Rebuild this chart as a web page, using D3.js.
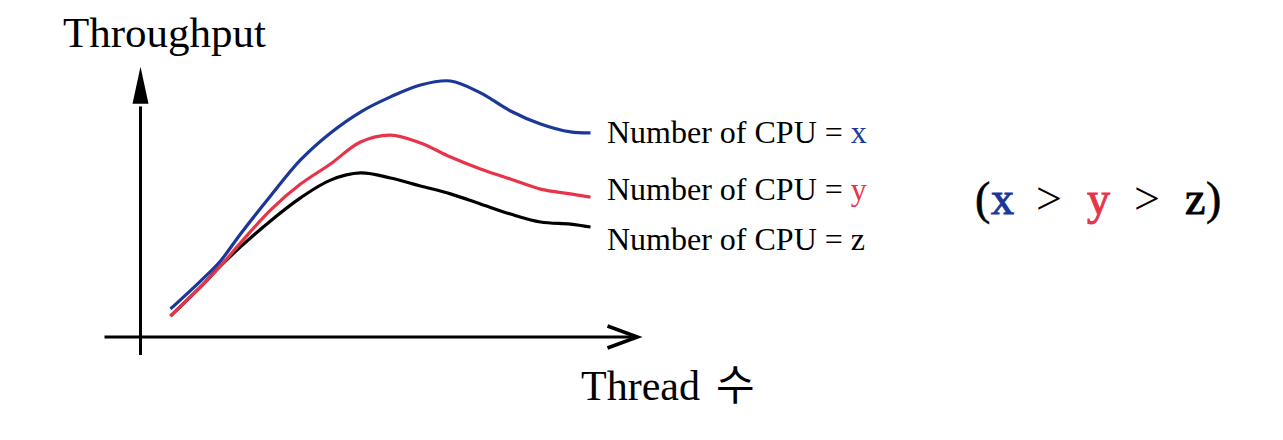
<!DOCTYPE html>
<html>
<head>
<meta charset="utf-8">
<script src="https://cdn.jsdelivr.net/npm/d3@7"></script>
<style>
    body { margin: 0; background: #fff; }
    svg text { font-family: "Liberation Serif", "Noto Sans CJK KR", serif; fill: #000; }
</style>
</head>
<body>
<svg id="chart" width="1283" height="440"></svg>
<script>
// thread count (x) and throughput (y)
var threads = [3, 6, 8, 10, 13, 16, 19, 22, 25, 28, 31, 34, 37, 40, 43, 45];
var cpuX = [10.6, 21.1, 28.7, 38.9, 53.2, 66.8, 77.0, 84.9, 90.6, 95.1, 96.6, 92.1, 85.3, 80.4, 77.4, 77.0];
var cpuY = [7.9, 18.9, 26.8, 35.5, 47.9, 57.7, 65.3, 73.6, 76.2, 73.2, 67.9, 63.4, 59.6, 55.8, 54.0, 52.8];
var cpuZ = [7.9, 18.9, 26.8, 34.0, 43.8, 52.5, 59.2, 61.9, 60.0, 57.0, 54.0, 50.2, 46.4, 43.4, 42.6, 41.5];
var seriesNames = ["z", "y", "x"];
var labelNames = ["x", "y", "z"];

var blue = "#1a3799", red = "#e8344a";
var colors = { x: blue, y: red, z: "#000" };
var values = { x: cpuX, y: cpuY, z: cpuZ };

var svg = d3.select("#chart");

var x = d3.scaleLinear().domain([0, 50]).range([140.5, 640.5]);
var y = d3.scaleLinear().domain([0, 100]).range([337, 72]);

// axes (no ticks, just arrows)
var axes = svg.append("g").attr("class", "axes");
axes.append("line")
    .attr("x1", x(0)).attr("x2", x(0))
    .attr("y1", y(-6.8)).attr("y2", y(87))
    .attr("stroke", "#000").attr("stroke-width", 3);
axes.append("path")
    .attr("d", "M" + x(0) + "," + y(102) +
               "L" + (x(0) - 8) + "," + y(88) +
               "L" + (x(0) + 8) + "," + y(88) + "Z")
    .attr("fill", "#000");
axes.append("line")
    .attr("x1", x(-3.6)).attr("x2", x(49.6))
    .attr("y1", y(0)).attr("y2", y(0))
    .attr("stroke", "#000").attr("stroke-width", 3);
axes.append("path")
    .attr("d", "M" + x(46.7) + "," + (y(0) - 11) +
               "L" + x(49.7) + "," + y(0) +
               "L" + x(46.7) + "," + (y(0) + 11))
    .attr("fill", "none").attr("stroke", "#000").attr("stroke-width", 3.5)
    .attr("stroke-linejoin", "miter");

var line = d3.line()
    .x(function(d, i) { return x(threads[i]); })
    .y(function(d) { return y(d); })
    .curve(d3.curveCatmullRom.alpha(0.5));

svg.append("g").attr("class", "lines")
    .selectAll("path")
    .data(seriesNames)
    .enter().append("path")
    .attr("d", function(s) { return line(values[s]); })
    .attr("fill", "none")
    .attr("stroke", function(s) { return colors[s]; })
    .attr("stroke-width", 3.2)
    .attr("stroke-linecap", "butt");

// series labels
var labelY = [143, 200, 250];
var labels = svg.append("g").attr("class", "labels")
    .selectAll("text")
    .data(labelNames)
    .enter().append("text")
    .attr("x", 607)
    .attr("y", function(d, i) { return labelY[i]; })
    .style("font-size", "32px");
labels.append("tspan").text("Number of CPU = ");
labels.append("tspan")
    .style("fill", function(d) { return colors[d]; })
    .text(function(d) { return d; });

// axis titles
svg.append("text").attr("x", 63).attr("y", 47)
    .style("font-size", "43px").text("Throughput");
var xt = svg.append("text").attr("y", 400).style("font-size", "42px");
xt.append("tspan").attr("x", 581).text("Thread");
xt.append("tspan").attr("x", 716).text("수");

// (x > y > z)
var cmp = svg.append("text").attr("y", 214).style("font-size", "46px");
var parts = [
    { t: "(", x: 975, c: "#000", s: 0.6 },
    { t: "x", x: 991, c: blue, s: 1 },
    { t: ">", x: 1036, c: "#000", s: 0 },
    { t: "y", x: 1087, c: red, s: 1 },
    { t: ">", x: 1134, c: "#000", s: 0 },
    { t: "z", x: 1185, c: "#000", s: 1 },
    { t: ")", x: 1206, c: "#000", s: 0.6 }
];
cmp.selectAll("tspan")
    .data(parts)
    .enter().append("tspan")
    .attr("x", function(d) { return d.x; })
    .style("fill", function(d) { return d.c; })
    .style("stroke", function(d) { return d.s ? d.c : "none"; })
    .style("stroke-width", function(d) { return d.s; })
    .text(function(d) { return d.t; });
</script>
</body>
</html>
